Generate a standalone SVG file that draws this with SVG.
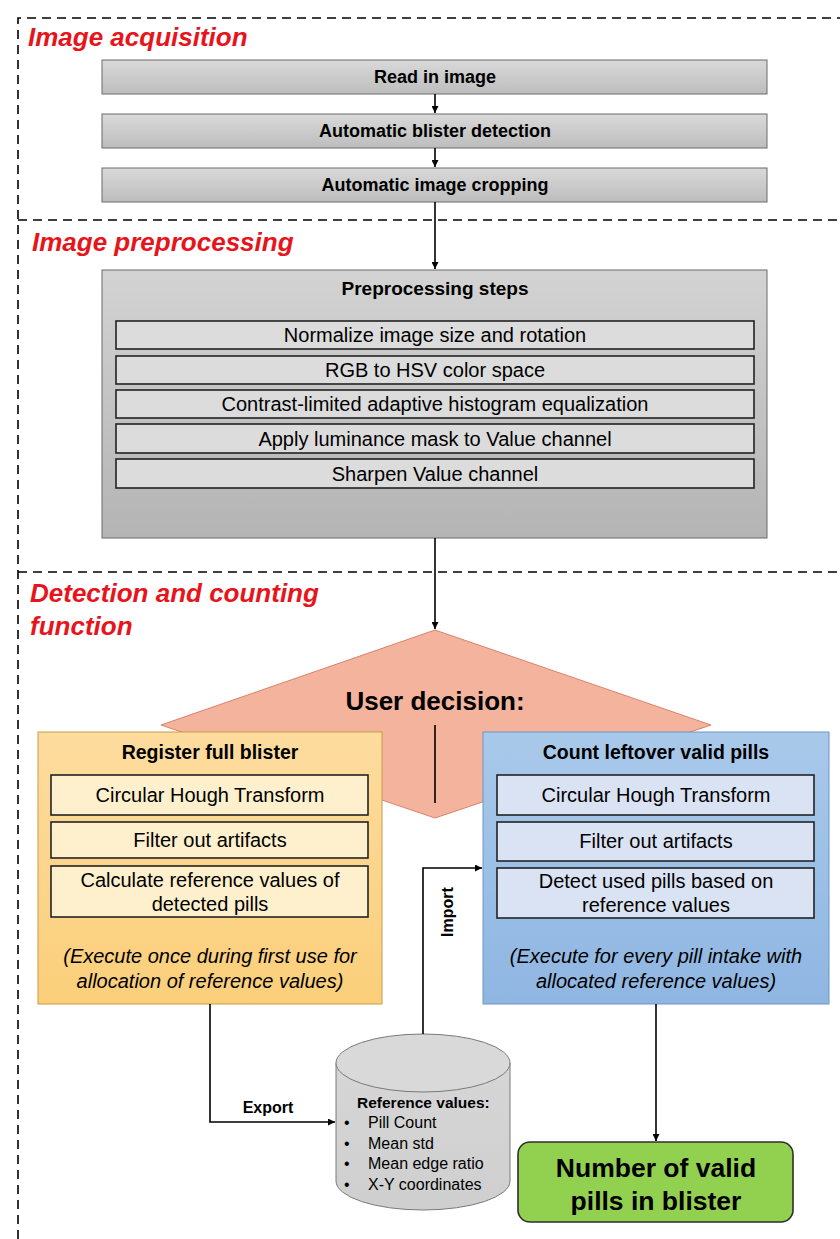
<svg xmlns="http://www.w3.org/2000/svg" width="840" height="1239" viewBox="0 0 840 1239">
<defs>
<linearGradient id="gGray" x1="0" y1="0" x2="0" y2="1"><stop offset="0" stop-color="#d9d9d9"/><stop offset="1" stop-color="#bdbdbd"/></linearGradient>
<linearGradient id="gPre" x1="0" y1="0" x2="0" y2="1"><stop offset="0" stop-color="#d3d3d3"/><stop offset="1" stop-color="#b4b4b4"/></linearGradient>
<linearGradient id="gOr" x1="0" y1="0" x2="0" y2="1"><stop offset="0" stop-color="#fddc9f"/><stop offset="1" stop-color="#fbcf7a"/></linearGradient>
<linearGradient id="gBl" x1="0" y1="0" x2="0" y2="1"><stop offset="0" stop-color="#a9c9ea"/><stop offset="1" stop-color="#8fb6e2"/></linearGradient>
<linearGradient id="gCyl" x1="0" y1="0" x2="0" y2="1"><stop offset="0" stop-color="#d6d6d6"/><stop offset="1" stop-color="#cfcfcf"/></linearGradient>
<marker id="arr" viewBox="0 0 10 10" refX="10" refY="5" markerWidth="7" markerHeight="7" markerUnits="userSpaceOnUse" orient="auto"><path d="M0,0 L10,5 L0,10 z" fill="#000"/></marker>
<style>
.dash{fill:none;stroke:#000;stroke-width:1.6;stroke-dasharray:9 6}
.sec{font-family:"Liberation Sans",Arial,sans-serif;font-weight:bold;font-style:italic;font-size:26px;fill:#e8141b}
.t{font-family:"Liberation Sans",Arial,sans-serif;fill:#000;text-anchor:middle}
.b{font-weight:bold}
.i{font-style:italic}
.step{fill:url(#gGray);stroke:#6b6b6b;stroke-width:1}
.inner{fill:#dcdcdc;stroke:#222;stroke-width:1.6}
.innerO{fill:#fef0cc;stroke:#222;stroke-width:1.6}
.innerB{fill:#dae3f3;stroke:#222;stroke-width:1.6}
.conn{fill:none;stroke:#000;stroke-width:1.6}
</style>
</defs>

<g id="frame">
<path class="dash" d="M18,1239 L18,18 L840,18"/>
<line class="dash" x1="18" y1="220" x2="840" y2="220"/>
<line class="dash" x1="18" y1="572" x2="840" y2="572"/>
<text class="sec" x="28" y="46">Image acquisition</text>
<text class="sec" x="32" y="251">Image preprocessing</text>
<text class="sec" x="30" y="602">Detection and counting</text>
<text class="sec" x="30" y="635">function</text>
</g>

<g id="read">
<rect class="step" x="102" y="60" width="665" height="34"/>
<text class="t b" x="435" y="83" font-size="18">Read in image</text>
</g>
<g id="detect">
<rect class="step" x="102" y="114" width="665" height="34"/>
<text class="t b" x="435" y="137" font-size="18">Automatic blister detection</text>
</g>
<g id="crop">
<rect class="step" x="102" y="168" width="665" height="34"/>
<text class="t b" x="435" y="191" font-size="18">Automatic image cropping</text>
</g>

<g id="preprocessing">
<rect x="102" y="270" width="665" height="268" fill="url(#gPre)" stroke="#6b6b6b" stroke-width="1"/>
<text class="t b" x="435" y="295" font-size="19">Preprocessing steps</text>
<rect class="inner" x="116" y="321" width="638" height="28"/>
<text class="t" x="435" y="342" font-size="20">Normalize image size and rotation</text>
<rect class="inner" x="116" y="356" width="638" height="28"/>
<text class="t" x="435" y="377" font-size="20">RGB to HSV color space</text>
<rect class="inner" x="116" y="390" width="638" height="28"/>
<text class="t" x="435" y="411" font-size="20">Contrast-limited adaptive histogram equalization</text>
<rect class="inner" x="116" y="424" width="638" height="29"/>
<text class="t" x="435" y="446" font-size="20">Apply luminance mask to Value channel</text>
<rect class="inner" x="116" y="459" width="638" height="29"/>
<text class="t" x="435" y="481" font-size="20">Sharpen Value channel</text>
</g>

<g id="decision">
<polygon points="435,630 711,725 435,818 161,725" fill="#f4b39c" stroke="#d9826a" stroke-width="1"/>
<text class="t b" x="435" y="710" font-size="26">User decision:</text>
<line x1="435" y1="725" x2="435" y2="803" stroke="#000" stroke-width="1.6"/>
</g>

<g id="register">
<rect x="38" y="732" width="344" height="272" fill="url(#gOr)" stroke="#c99a48" stroke-width="1"/>
<text class="t b" x="210" y="759" font-size="19.5">Register full blister</text>
<rect class="innerO" x="51" y="775" width="317" height="40"/>
<text class="t" x="210" y="802" font-size="20">Circular Hough Transform</text>
<rect class="innerO" x="51" y="822" width="317" height="36"/>
<text class="t" x="210" y="847" font-size="20">Filter out artifacts</text>
<rect class="innerO" x="51" y="866" width="317" height="51"/>
<text class="t" x="210" y="887" font-size="20">Calculate reference values of</text>
<text class="t" x="210" y="911" font-size="20">detected pills</text>
<text class="t i" x="210" y="963" font-size="20">(Execute once during first use for</text>
<text class="t i" x="210" y="988" font-size="20">allocation of reference values)</text>
</g>

<g id="count">
<rect x="483" y="732" width="346" height="272" fill="url(#gBl)" stroke="#6f95c2" stroke-width="1"/>
<text class="t b" x="656" y="759" font-size="19.5">Count leftover valid pills</text>
<rect class="innerB" x="497" y="775" width="317" height="40"/>
<text class="t" x="656" y="802" font-size="20">Circular Hough Transform</text>
<rect class="innerB" x="497" y="822" width="317" height="39"/>
<text class="t" x="656" y="848" font-size="20">Filter out artifacts</text>
<rect class="innerB" x="497" y="868" width="317" height="50"/>
<text class="t" x="656" y="888" font-size="20">Detect used pills based on</text>
<text class="t" x="656" y="912" font-size="20">reference values</text>
<text class="t i" x="656" y="963" font-size="20">(Execute for every pill intake with</text>
<text class="t i" x="656" y="988" font-size="20">allocated reference values)</text>
</g>

<g id="reference">
<path d="M336,1063 L336,1181 A87,29 0 0 0 510,1181 L510,1063" fill="url(#gCyl)" stroke="#7a7a7a" stroke-width="1"/>
<ellipse cx="423" cy="1063" rx="87" ry="29" fill="#d9d9d9" stroke="#7a7a7a" stroke-width="1"/>
<text x="357" y="1108" font-family="'Liberation Sans',Arial,sans-serif" font-weight="bold" font-size="15.5">Reference values:</text>
<g font-family="'Liberation Sans',Arial,sans-serif" font-size="16">
<text x="344" y="1128">•</text><text x="368" y="1128">Pill Count</text>
<text x="344" y="1149">•</text><text x="368" y="1149">Mean std</text>
<text x="344" y="1169">•</text><text x="368" y="1169">Mean edge ratio</text>
<text x="344" y="1190">•</text><text x="368" y="1190">X-Y coordinates</text>
</g>
</g>

<g id="result">
<rect x="518" y="1142" width="275" height="80" rx="12" ry="12" fill="#92d050" stroke="#2e2e2e" stroke-width="1.6"/>
<text class="t b" x="656" y="1177" font-size="26.5">Number of valid</text>
<text class="t b" x="656" y="1210" font-size="26.5">pills in blister</text>
</g>

<g id="connectors">
<line class="conn" x1="435" y1="94" x2="435" y2="113" marker-end="url(#arr)"/>
<line class="conn" x1="435" y1="148" x2="435" y2="167" marker-end="url(#arr)"/>
<line class="conn" x1="435" y1="202" x2="435" y2="269" marker-end="url(#arr)"/>
<line class="conn" x1="435" y1="538" x2="435" y2="629" marker-end="url(#arr)"/>
<path class="conn" d="M210,1004 L210,1122 L335,1122" marker-end="url(#arr)"/>
<text class="t b" x="268" y="1113" font-size="16">Export</text>
<path class="conn" d="M423,1034 L423,868 L482,868" marker-end="url(#arr)"/>
<text class="t b" font-size="16" transform="translate(453,912) rotate(-90)">Import</text>
<line class="conn" x1="656" y1="1004" x2="656" y2="1141" marker-end="url(#arr)"/>
</g>
</svg>
